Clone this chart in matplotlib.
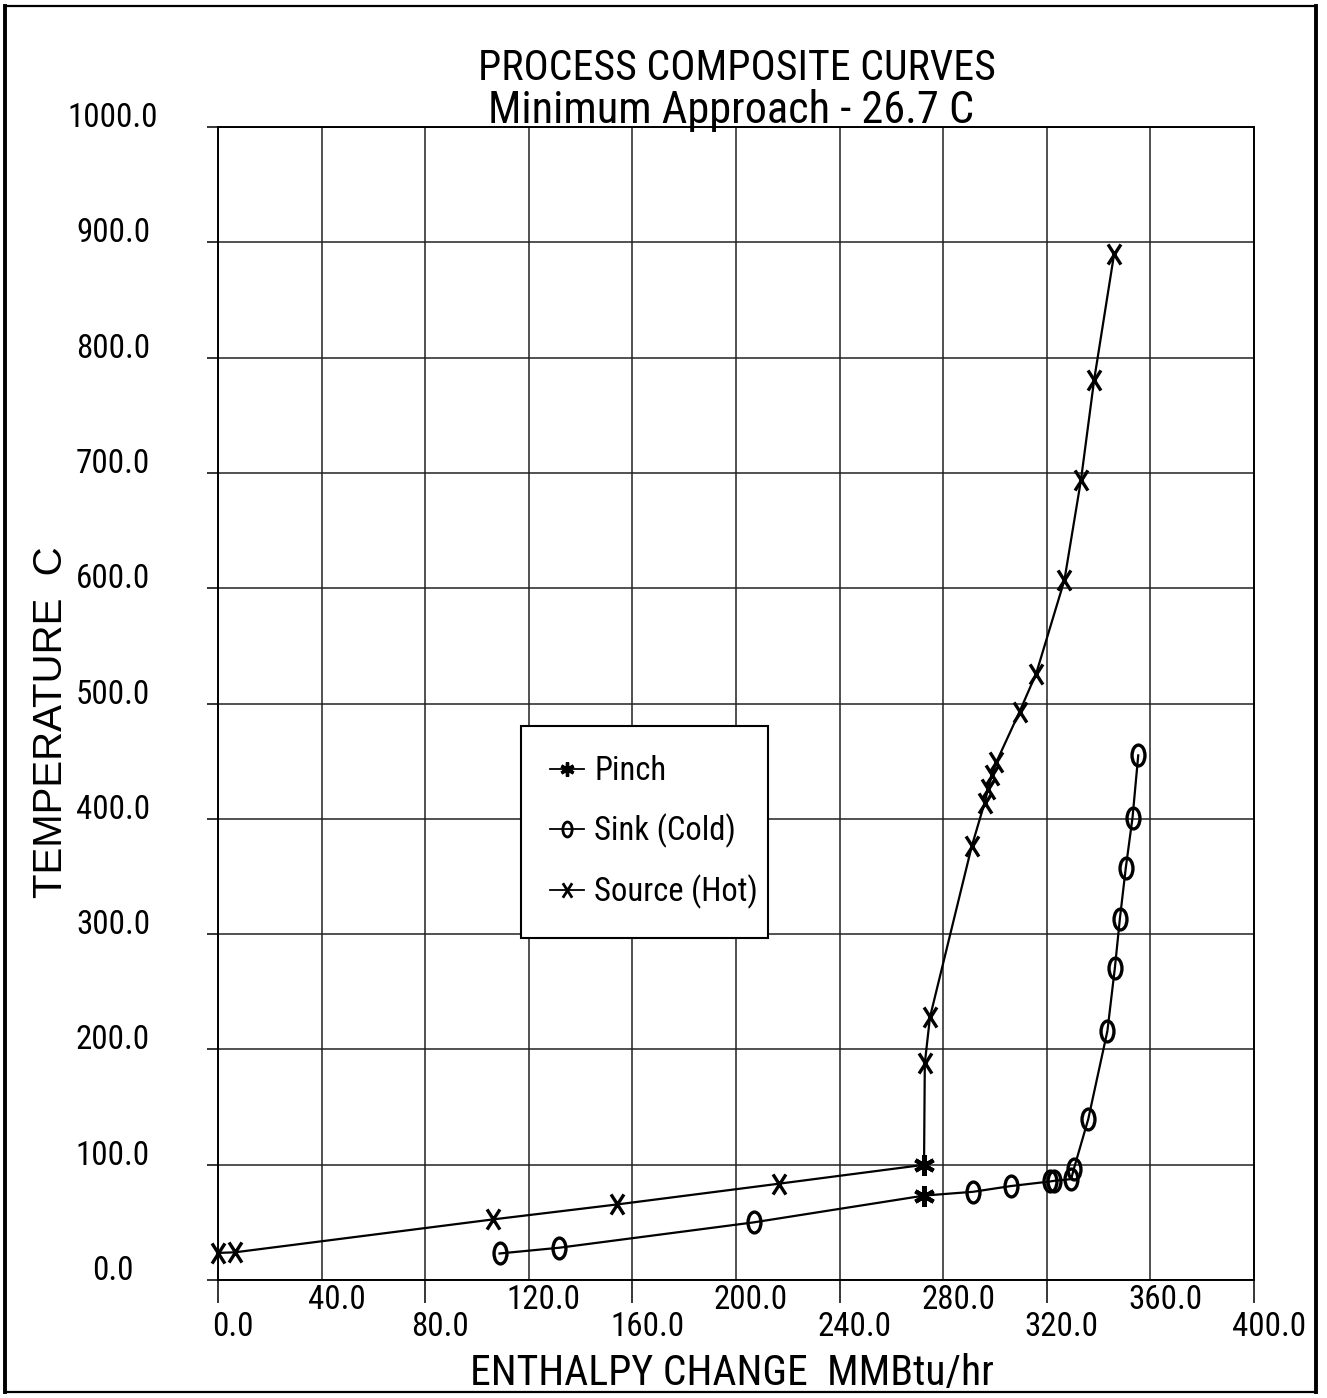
import math
import matplotlib
matplotlib.use("Agg")
import matplotlib.pyplot as plt
from matplotlib import font_manager
from matplotlib.path import Path
from matplotlib.textpath import TextPath
from matplotlib.transforms import ScaledTranslation, Affine2D
from matplotlib.lines import Line2D
from matplotlib.font_manager import FontProperties

# ---- data -------------------------------------------------------------
# Hot composite curve (sources): enthalpy change [MMBtu/hr], temperature [C]
hot_h = [0.0, 6.5, 106.0, 154.0, 216.5, 272.6, 272.9, 274.9, 291.0, 296.0,
         297.3, 298.8, 300.5, 309.5, 315.9, 326.8, 333.2, 338.3, 346.0]
hot_t = [23.5, 24.0, 52.5, 65.5, 83.5, 99.9, 188.0, 228.0, 376.0, 414.0,
         426.0, 438.0, 449.0, 493.0, 526.0, 607.0, 694.0, 781.0, 890.0]

# Cold composite curve (sinks)
cold_h = [108.7, 131.8, 206.9, 272.6, 291.5, 306.2, 321.4, 322.8, 329.4,
          330.4, 336.0, 343.4, 346.3, 348.2, 350.5, 353.1, 355.3]
cold_t = [23.0, 28.0, 50.0, 73.2, 76.5, 81.5, 85.5, 86.0, 87.5,
          96.0, 139.5, 216.0, 271.0, 313.0, 357.5, 401.0, 455.0]

# Pinch points (hot side / cold side), 26.7 C apart
pinch_h = [272.6, 272.6]
pinch_t = [99.9, 73.2]

x_major = [0, 80, 160, 240, 320, 400]
x_minor = [40, 120, 200, 280, 360]
y_ticks = [0, 100, 200, 300, 400, 500, 600, 700, 800, 900, 1000]

legend_labels = ["Pinch", "Sink (Cold)", "Source (Hot)"]
title_lines = ["PROCESS COMPOSITE CURVES", "Minimum Approach - 26.7 C"]
x_title = "ENTHALPY CHANGE  MMBtu/hr"
y_title = "TEMPERATURE  C"

W, H, DPI = 1327, 1398, 100

# ---- fonts --------------------------------------------------------------
# Gather regular-weight sans faces (including any narrow / condensed cuts)
BASES = ["Liberation Sans", "DejaVu Sans", "Noto Sans", "Roboto", "Open Sans",
         "Lato", "Inter"]


def _is_regular(entry):
    w = entry.weight
    if isinstance(w, str):
        w = {"normal": 400, "regular": 400, "book": 400, "medium": 500}.get(w.lower(), 0)
    return 380 <= w <= 520 and entry.style == "normal"


def _family_ok(name):
    for b in BASES:
        if name == b:
            return True
        if name.startswith(b + " "):
            rest = name[len(b) + 1:].lower()
            if "cond" in rest or "narrow" in rest:
                return True
    return False


candidates = []
seen = set()
for entry in font_manager.fontManager.ttflist:
    if entry.fname in seen or not _is_regular(entry) or not _family_ok(entry.name):
        continue
    if "mono" in entry.name.lower():
        continue
    seen.add(entry.fname)
    candidates.append(entry.fname)

_metrics = {}


def _measure(fname, s):
    key = (fname, s)
    if key not in _metrics:
        ext = TextPath((0, 0), s, size=100, prop=FontProperties(fname=fname)).get_extents()
        _metrics[key] = (ext.width, ext.height)
    return _metrics[key]


def fitted_font(s, target_w, target_cap, width_weight=0.6):
    """Pick the face whose proportions best fit the given ink box, and a size."""
    best = None
    for fname in candidates:
        try:
            w100, _ = _measure(fname, s)
            _, c100 = _measure(fname, "EH")
        except Exception:
            continue
        if w100 <= 0 or c100 <= 0:
            continue
        score = abs(math.log((w100 / c100) / (target_w / target_cap)))
        if best is None or score < best[0]:
            best = (score, fname, w100, c100)
    if best is None:
        return FontProperties(family="DejaVu Sans", size=target_cap * 0.72 / 0.73 * 72 / DPI)
    _, fname, w100, c100 = best
    px_per_pt = DPI / 72.0
    size_w = target_w / (w100 / 100.0 * px_per_pt)
    size_c = target_cap / (c100 / 100.0 * px_per_pt)
    size = size_w ** width_weight * size_c ** (1 - width_weight)
    return FontProperties(fname=fname, size=size)


fp_title1 = fitted_font(title_lines[0], 491, 35, width_weight=0.8)
fp_title2 = fitted_font(title_lines[1], 477, 32)
fp_xlabel = fitted_font(x_title, 488, 42, width_weight=0.85)
fp_tick = fitted_font("1000.0", 82, 25)
fp_legend = fitted_font("Source (Hot)", 157, 24)
fp_ylabel = FontProperties(family="Liberation Sans", size=29)

# ---- marker shapes ------------------------------------------------------
x_marker = Path([(-0.32, -0.5), (0.32, 0.5), (0.32, -0.5), (-0.32, 0.5)],
                [Path.MOVETO, Path.LINETO, Path.MOVETO, Path.LINETO])
o_marker = Path.unit_circle().transformed(Affine2D().scale(0.62, 1.0))
star_marker = (6, 2, 0)

fig = plt.figure(figsize=(W / DPI, H / DPI), dpi=DPI, facecolor="white")


def px_x(p):
    return p / W


def px_y(p):
    return 1 - p / H


ax_l, ax_r, ax_t, ax_b = 218, 1254, 127, 1280
ax = fig.add_axes([px_x(ax_l), px_y(ax_b), (ax_r - ax_l) / W, (ax_b - ax_t) / H])
ax.set_xlim(0, 400)
ax.set_ylim(0, 1000)

for s in ax.spines.values():
    s.set_linewidth(1.4)
    s.set_color("black")

# grid and ticks
ax.set_xticks(x_major, labels=[f"{v:.1f}" for v in x_major])
ax.set_xticks(x_minor, labels=[f"{v:.1f}" for v in x_minor], minor=True)
ax.set_yticks(y_ticks)
ax.set_yticklabels([f"{v:.1f}" for v in y_ticks], ha="center", va="baseline")
ax.grid(True, which="both", axis="x", color="#222222", linewidth=1.1)
ax.grid(True, which="major", axis="y", color="#222222", linewidth=1.1)
ax.set_axisbelow(True)

ax.tick_params(axis="x", which="major", direction="out", length=16.5, width=1.1, pad=6)
ax.tick_params(axis="x", which="minor", direction="out", length=0, width=1.1, pad=3)
ax.tick_params(axis="y", direction="out", length=8, width=1.1, pad=67.6)

shift = ScaledTranslation(15 / DPI, 0, fig.dpi_scale_trans)
for lbl in ax.get_xticklabels(which="both"):
    lbl.set_fontproperties(fp_tick)
    lbl.set_transform(lbl.get_transform() + shift)
for lbl in ax.get_yticklabels():
    lbl.set_fontproperties(fp_tick)

# ---- curves -------------------------------------------------------------
line_kw = dict(color="black", linewidth=1.6, clip_on=False)
hot_marks = [i for i in range(len(hot_h)) if i != 5]
cold_marks = [i for i in range(len(cold_h)) if i != 3]

ax.plot(hot_h, hot_t, marker=x_marker, markersize=14.5, markeredgewidth=2.4,
        markerfacecolor="none", markeredgecolor="black", markevery=hot_marks, **line_kw)
ax.plot(cold_h, cold_t, marker=o_marker, markersize=15, markeredgewidth=2.4,
        markerfacecolor="none", markeredgecolor="black", markevery=cold_marks, **line_kw)
ax.plot(pinch_h, pinch_t, linestyle="none", marker=star_marker, markersize=15,
        markeredgewidth=3.0, color="black", clip_on=False)

# ---- legend -------------------------------------------------------------
handles = [
    Line2D([], [], color="black", linewidth=1.3, marker=star_marker, markersize=14,
           markeredgewidth=2.4),
    Line2D([], [], color="black", linewidth=1.3, marker=o_marker, markersize=15,
           markeredgewidth=2.0, markerfacecolor="none"),
    Line2D([], [], color="black", linewidth=1.3, marker=x_marker, markersize=14.5,
           markeredgewidth=2.0, markerfacecolor="none"),
]
leg_x = (520.7 - ax_l) / (ax_r - ax_l)
leg_top = (ax_b - 726) / (ax_b - ax_t)
leg_w = 247 / (ax_r - ax_l)
leg = ax.legend(handles, legend_labels, loc="upper left",
                bbox_to_anchor=(leg_x, leg_top - 0.2, leg_w, 0.2), mode="expand",
                borderaxespad=0, borderpad=0.9, labelspacing=0.8,
                handlelength=1.05, handletextpad=0.3, markerscale=0.72,
                prop=fp_legend,
                fancybox=False, framealpha=1, edgecolor="black", facecolor="white")
leg.get_frame().set_linewidth(1.5)

# ---- titles -------------------------------------------------------------
fig.text(px_x(737), px_y(80), title_lines[0], ha="center", va="baseline",
         fontproperties=fp_title1)
fig.text(px_x(731), px_y(123), title_lines[1], ha="center", va="baseline",
         fontproperties=fp_title2)
fig.text(px_x(732), px_y(1385), x_title, ha="center", va="baseline",
         fontproperties=fp_xlabel)
fig.text(px_x(51), px_y(722), y_title, ha="center", va="center", rotation=90,
         fontproperties=fp_ylabel)

# ---- page frame ---------------------------------------------------------
bl, br, bt, bb = 5, 1316, 6, 1392
for (x0, y0, x1, y1, lw) in [(bl, bt, br, bt, 1.6), (bl, bb, br, bb, 1.6),
                             (bl, bt, bl, bb, 2.8), (br, bt, br, bb, 2.8)]:
    fig.add_artist(Line2D([px_x(x0), px_x(x1)], [px_y(y0), px_y(y1)],
                          transform=fig.transFigure, color="black", linewidth=lw))

fig.savefig("out.png", dpi=DPI, facecolor="white")
